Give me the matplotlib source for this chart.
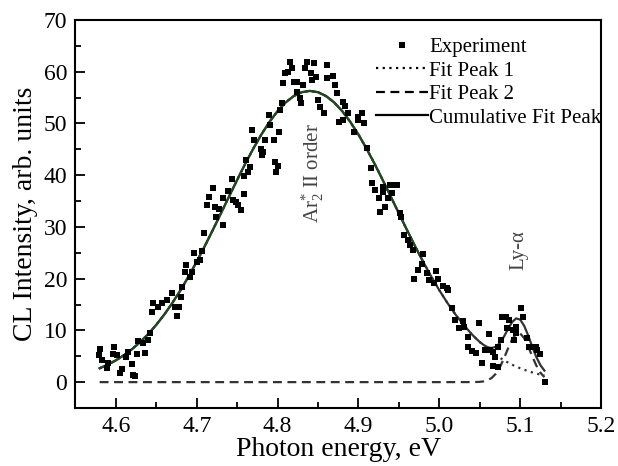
import matplotlib
matplotlib.use("Agg")
from matplotlib import pyplot as plt
from matplotlib.ticker import MultipleLocator

plt.rcParams['font.family'] = ['Liberation Serif', 'DejaVu Serif']
plt.rcParams['mathtext.fontset'] = 'custom'
plt.rcParams['mathtext.rm'] = 'Liberation Serif'
plt.rcParams['mathtext.it'] = 'Liberation Serif:italic'

exp_x = [4.579, 4.581, 4.583, 4.589, 4.590, 4.597, 4.598, 4.602, 4.605, 4.608,
         4.612, 4.615, 4.620, 4.621, 4.624, 4.626, 4.628, 4.633, 4.636, 4.640,
         4.642, 4.645, 4.646, 4.652, 4.657, 4.663, 4.670, 4.673, 4.676, 4.678,
         4.681, 4.682, 4.685, 4.687, 4.692, 4.694, 4.697, 4.701, 4.704, 4.707,
         4.709, 4.713, 4.715, 4.720, 4.723, 4.724, 4.728, 4.733, 4.733, 4.739,
         4.744, 4.745, 4.749, 4.751, 4.755, 4.758, 4.759, 4.761, 4.764, 4.766,
         4.769, 4.771, 4.779, 4.781, 4.782, 4.785, 4.790, 4.791, 4.795, 4.797,
         4.798, 4.800, 4.802, 4.803, 4.806, 4.807, 4.809, 4.813, 4.816, 4.818,
         4.820, 4.824, 4.824, 4.828, 4.829, 4.832, 4.834, 4.837, 4.841, 4.843,
         4.845, 4.848, 4.850, 4.853, 4.857, 4.861, 4.861, 4.868, 4.871, 4.874,
         4.876, 4.881, 4.884, 4.881, 4.887, 4.894, 4.899, 4.900, 4.905, 4.907,
         4.911, 4.915, 4.917, 4.921, 4.925, 4.927, 4.930, 4.930, 4.933, 4.937,
         4.939, 4.942, 4.946, 4.948, 4.951, 4.953, 4.956, 4.961, 4.964, 4.968,
         4.969, 4.974, 4.979, 4.980, 4.985, 4.987, 4.993, 4.996, 4.999, 5.004,
         5.010, 5.011, 5.016, 5.020, 5.024, 5.029, 5.030, 5.035, 5.036, 5.041,
         5.045, 5.049, 5.053, 5.057, 5.061, 5.063, 5.067, 5.067, 5.069, 5.072,
         5.072, 5.076, 5.078, 5.082, 5.086, 5.084, 5.091, 5.092, 5.095, 5.095,
         5.101, 5.104, 5.109, 5.111, 5.113, 5.119, 5.121, 5.125, 5.131]
exp_y = [5.2, 6.4, 4.3, 2.7, 3.7, 5.4, 6.8, 5.2, 1.7, 2.5,
         4.8, 5.8, 3.5, 1.4, 1.2, 5.4, 7.9, 7.5, 5.6, 8.1,
         9.5, 13.5, 15.3, 14.5, 15.3, 15.9, 17.2, 14.5, 12.8, 14.5,
         16.4, 18.4, 21.3, 22.6, 20.3, 21.3, 25.0, 23.2, 23.6, 25.3,
         28.8, 34.2, 35.8, 37.5, 33.8, 31.9, 33.5, 30.4, 35.6, 36.9,
         39.3, 35.2, 34.8, 34.2, 33.3, 36.4, 39.8, 42.9, 40.6, 41.6,
         48.7, 46.8, 45.1, 43.9, 44.5, 46.8, 51.6, 49.7, 46.8, 42.6,
         40.6, 41.8, 48.4, 52.6, 54.0, 57.8, 59.8, 60.0, 61.9, 60.7,
         58.0, 58.0, 56.1, 54.9, 54.0, 57.4, 60.7, 61.9, 59.8, 58.4,
         61.7, 59.0, 54.5, 53.2, 52.0, 61.3, 58.8, 59.2, 57.4, 55.9,
         50.3, 54.2, 53.4, 50.7, 52.0, 48.4, 51.3, 50.7, 52.0, 50.1,
         45.3, 41.4, 38.5, 37.1, 35.6, 32.9, 36.8, 37.7, 33.8, 35.6,
         38.1, 36.6, 38.1, 38.1, 32.7, 31.9, 28.4, 27.5, 26.5, 25.5,
         19.9, 21.7, 22.8, 24.8, 21.1, 19.7, 19.1, 21.5, 19.9, 18.6,
         18.2, 17.8, 14.3, 12.0, 10.4, 11.8, 10.6, 8.7, 6.8, 6.0,
         5.6, 11.4, 3.7, 6.2, 9.3, 6.2, 5.8, 3.1, 4.8, 6.8,
         2.9, 8.1, 12.6, 12.6, 12.0, 10.4, 10.1, 8.1, 10.6, 9.5,
         14.3, 12.6, 8.5, 6.8, 6.8, 6.8, 6.2, 5.4, 0.0]

# fit peak 1 (dotted)
p1_x = [4.58, 4.59, 4.60, 4.61, 4.62, 4.63, 4.64, 4.65, 4.66, 4.67,
        4.68, 4.69, 4.70, 4.71, 4.72, 4.73, 4.74, 4.75, 4.76, 4.77,
        4.78, 4.79, 4.80, 4.81, 4.82, 4.83, 4.84, 4.85, 4.86, 4.87,
        4.88, 4.89, 4.90, 4.91, 4.92, 4.93, 4.94, 4.95, 4.96, 4.97,
        4.98, 4.99, 5.00, 5.01, 5.02, 5.03, 5.04, 5.05, 5.06, 5.07,
        5.08, 5.09, 5.10, 5.11, 5.12, 5.13]
p1_y = [2.68, 3.37, 4.21, 5.20, 6.36, 7.73, 9.29, 11.07, 13.08, 15.32,
        17.77, 20.43, 23.29, 26.29, 29.43, 32.64, 35.88, 39.08, 42.21, 45.15,
        47.88, 50.30, 52.39, 54.07, 55.30, 56.05, 56.30, 56.05, 55.30, 54.07,
        52.39, 50.30, 47.88, 45.15, 42.21, 39.08, 35.88, 32.64, 29.43, 26.29,
        23.29, 20.43, 17.77, 15.32, 13.08, 11.07, 9.29, 7.73, 6.36, 5.20,
        4.21, 3.37, 2.68, 2.11, 1.65, 1.27]

# fit peak 2 (dashed)
p2_x = [4.58, 4.70, 4.80, 4.90, 5.00, 5.04, 5.045, 5.05, 5.055, 5.06,
        5.065, 5.07, 5.075, 5.08, 5.085, 5.09, 5.095, 5.10, 5.105, 5.11,
        5.115, 5.12, 5.125, 5.13]
p2_y = [0.0, 0.0, 0.0, 0.0, 0.0, 0.01, 0.02, 0.05, 0.15, 0.37,
        0.83, 1.64, 2.90, 4.59, 6.50, 8.23, 9.31, 9.41, 8.51, 6.88,
        4.97, 3.21, 1.85, 0.96]

# cumulative fit
cum_x = p1_x[:47] + [5.045, 5.05, 5.055, 5.06, 5.065, 5.07, 5.075, 5.08,
                     5.085, 5.09, 5.095, 5.10, 5.105, 5.11, 5.115, 5.12,
                     5.125, 5.13]
cum_y = p1_y[:47] + [8.50, 7.78, 7.17, 6.73, 6.59, 6.84, 7.58, 8.80,
                     10.27, 11.60, 12.32, 12.09, 10.89, 8.99, 6.84, 4.86,
                     3.30, 2.23]

x_ticks = [4.6, 4.7, 4.8, 4.9, 5.0, 5.1, 5.2]
y_ticks = [0, 10, 20, 30, 40, 50, 60, 70]

fig = plt.figure(figsize=(6.18, 4.66), dpi=100)
ax = fig.add_axes([0.122, 0.1245, 0.8505, 0.8325])

line_col = '#333333'
ax.plot(p1_x, p1_y, linestyle=(0, (1, 2)), color=line_col, lw=1.6)
ax.plot(p2_x, p2_y, linestyle=(0, (4, 2.5)), color=line_col, lw=1.6)
ax.plot(cum_x, cum_y, '-', color=line_col, lw=1.6)
# green overlay on the main peak
ax.plot(p1_x[:41], p1_y[:41], '-', color='#1f4a1f', lw=1.6)
ax.plot(exp_x, exp_y, 's', color='black', ms=4.2, mew=0, zorder=5)

# legend handles
h1, = ax.plot([], [], 's', color='black', ms=4.2, mew=0)
h2, = ax.plot([], [], linestyle=(0, (1, 2)), color='black', lw=1.6)
h3, = ax.plot([], [], linestyle=(0, (4, 2.5)), color='black', lw=1.6)
h4, = ax.plot([], [], '-', color='black', lw=1.6)
ax.legend([h1, h2, h3, h4],
          ['Experiment', 'Fit Peak 1', 'Fit Peak 2', 'Cumulative Fit Peak'],
          loc='upper left', bbox_to_anchor=(0.552, 0.982), frameon=False,
          fontsize=15, handlelength=2.5, handletextpad=0.05,
          labelspacing=0.19, borderpad=0, numpoints=1)

ax.text(4.843, 40.4, r'Ar$_{2}^{*}$ II order', rotation=90, ha='center',
        va='center', fontsize=15, color='#444444')
ax.text(5.098, 25.5, 'Ly-α', rotation=90, ha='center', va='center',
        fontsize=15, color='#444444')

ax.set_xlim(4.55, 5.2)
ax.set_ylim(-5, 70)
ax.set_xticks(x_ticks)
ax.set_xticklabels(['%.1f' % v for v in x_ticks])
ax.set_yticks(y_ticks)
ax.xaxis.set_minor_locator(MultipleLocator(0.05))
ax.yaxis.set_minor_locator(MultipleLocator(5))
ax.tick_params(which='both', direction='in', top=False, right=False,
               width=1.3, labelsize=17, pad=6)
ax.tick_params(which='major', length=7)
ax.tick_params(which='minor', length=4.5)
for s in ax.spines.values():
    s.set_linewidth(1.5)

ax.set_xlabel('Photon energy, eV', fontsize=20, labelpad=0)
ax.set_ylabel('CL Intensity, arb. units', fontsize=20, labelpad=4)

fig.savefig('out.png', dpi=100)
